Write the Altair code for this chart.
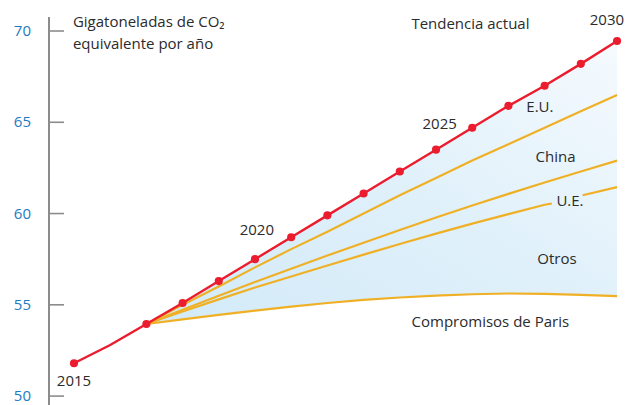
import altair as alt
import pandas as pd

# ---- data ----
years = list(range(2015, 2031))
tendencia = [51.8, 52.8, 53.95, 55.1, 56.3, 57.5, 58.7, 59.9, 61.1, 62.3, 63.5, 64.7, 65.9, 67.0, 68.2, 69.45]
dot_years = [2015] + list(range(2017, 2031))

proj_years = list(range(2017, 2031))
eu = [53.95, 55.0, 56.0, 57.05, 58.05, 59.0, 60.0, 61.0, 61.95, 62.9, 63.8, 64.7, 65.6, 66.5]
china = [53.95, 54.73, 55.5, 56.25, 56.98, 57.7, 58.4, 59.1, 59.78, 60.44, 61.08, 61.7, 62.3, 62.9]
paris = [53.95, 54.2, 54.45, 54.68, 54.9, 55.1, 55.27, 55.4, 55.5, 55.58, 55.62, 55.6, 55.55, 55.48]
# U.E. line is broken where its label sits
ue_years_a = [2017, 2018, 2019, 2020, 2021, 2022, 2023, 2024, 2025, 2026, 2027, 2028, 2028.2]
ue_a = [53.95, 54.63, 55.3, 55.95, 56.55, 57.15, 57.75, 58.33, 58.9, 59.45, 59.97, 60.48, 60.55]
ue_years_b = [2029.05, 2030]
ue_b = [61.0, 61.45]

y_ticks = [50, 55, 60, 65, 70]
y_tick_labels = ["50", "55", "60", "65", "70"]

labels = ["2015", "2020", "2025", "2030", "Tendencia actual", "E.U.", "China", "U.E.", "Otros", "Compromisos de Paris"]
label_x = [2015, 2020.05, 2025.1, 2029.72, 2025.95, 2027.87, 2028.3, 2028.7, 2028.34, 2026.5]
label_y = [50.83, 59.1, 64.9, 70.6, 70.4, 65.84, 63.1, 60.7, 57.5, 54.06]

title_lines = ["Gigatoneladas de CO₂", "equivalente por año"]
title_x = [2014.97, 2014.97]
title_y = [70.5, 69.3]

# ---- tables ----
df_red = pd.DataFrame({"year": years, "v": tendencia})
df_dots = df_red[df_red["year"].isin(dot_years)]
df_area = pd.DataFrame({"year": proj_years, "v": tendencia[2:], "bottom": paris})
rows = []
for name, yrs, vs in [("eu", proj_years, eu), ("china", proj_years, china), ("paris", proj_years, paris),
                      ("ue_a", ue_years_a, ue_a), ("ue_b", ue_years_b, ue_b)]:
    for yr, v in zip(yrs, vs):
        rows.append({"s": name, "year": yr, "v": v})
df_orange = pd.DataFrame(rows)
df_ticks = pd.DataFrame({"v": y_ticks, "lab": y_tick_labels})
df_labels = pd.DataFrame({"t": labels, "year": label_x, "v": label_y})
df_title = pd.DataFrame({"t": title_lines, "year": title_x, "v": title_y})

FONT = "Open Sans"
TXT = "#2b2b2b"
AXIS_GRAY = "#8c8c8c"
W, H = 576, 380

xs = alt.Scale(domain=[2014.31, 2030.22], nice=False, zero=False)
ys = alt.Scale(domain=[49.95, 70.767], nice=False, zero=False)

X = lambda: alt.X("year:Q", scale=xs, axis=None)
Y = lambda: alt.Y("v:Q", scale=ys, axis=None)

# axis drawn by hand: vertical line, inward ticks, blue labels
axis_line = alt.Chart(df_ticks).mark_rule(color=AXIS_GRAY, strokeWidth=2).encode(
    x=alt.value(0), y=alt.value(0), y2=alt.value(H + 8))
tick_marks = alt.Chart(df_ticks).mark_rule(color=AXIS_GRAY, strokeWidth=1.6).encode(
    y=Y(), x=alt.value(0), x2=alt.value(15))
tick_labels = alt.Chart(df_ticks).mark_text(
    font=FONT, fontSize=15, color="#1f7ac2", align="right", baseline="middle").encode(
    y=Y(), x=alt.value(-18), text="lab:N")

area = alt.Chart(df_area).mark_area(
    color=alt.Gradient(gradient="linear", x1=0, y1=1, x2=1, y2=0,
                       stops=[alt.GradientStop(color="#d2eaf8", offset=0),
                              alt.GradientStop(color="#dff0fa", offset=0.5),
                              alt.GradientStop(color="#f5fafe", offset=1)])
).encode(x=X(), y=Y(), y2="bottom:Q")

orange = alt.Chart(df_orange).mark_line(color="#f0b025", strokeWidth=2.2).encode(
    x=X(), y=Y(), detail="s:N")

red = alt.Chart(df_red).mark_line(color="#ea1c2d", strokeWidth=2.4).encode(x=X(), y=Y())
dots = alt.Chart(df_dots).mark_circle(color="#ea1c2d", size=66, opacity=1).encode(x=X(), y=Y())

txt = alt.Chart(df_labels).mark_text(font=FONT, fontSize=15, color=TXT, baseline="middle").encode(
    x=X(), y=Y(), text="t:N")
ttl = alt.Chart(df_title).mark_text(font=FONT, fontSize=15, color=TXT, baseline="middle", align="left").encode(
    x=X(), y=Y(), text="t:N")

chart = alt.layer(area, orange, red, dots, txt, ttl, axis_line, tick_marks, tick_labels).properties(
    width=W, height=H, padding={"left": 41, "top": 9, "right": 4, "bottom": 8},
    autosize=alt.AutoSizeParams(type="none"),
).configure_view(stroke=None)

chart.save("out.html", embed_options={"renderer": "svg", "actions": False})
